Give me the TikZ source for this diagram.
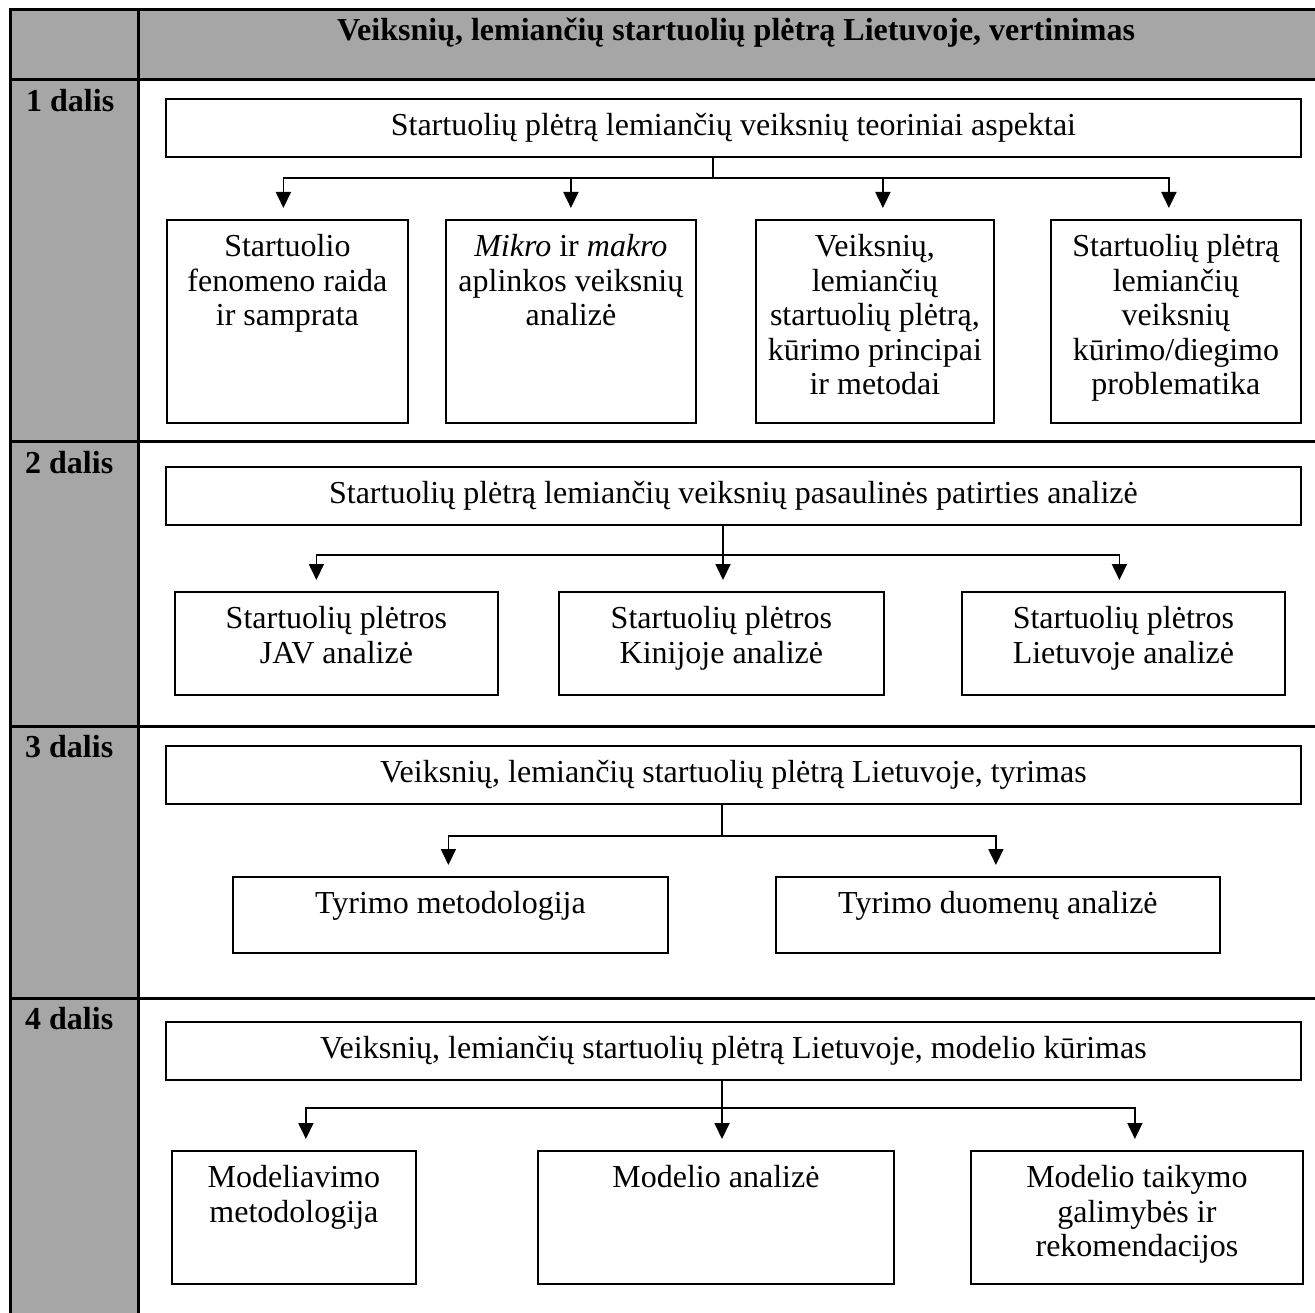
\documentclass[tikz,border=0pt]{standalone}
\usepackage{fontspec}
\setmainfont{Liberation Serif}
\usetikzlibrary{arrows.meta}
\definecolor{cellgray}{HTML}{A6A6A6}
\newcommand\bodyfont{\fontsize{32}{34.5}\selectfont}
% top-aligned, centred text block of a given width and height
\newcommand\boxtext[3]{\parbox[t][#2][t]{#1}{\centering\rule{0pt}{37pt}#3}}
\tikzset{
  tbl/.style={line width=3pt, line cap=rect},
  bx/.style={draw, line width=1.8pt, inner sep=0pt, anchor=north west, font=\bodyfont},
  topbx/.style={bx, minimum width=1135pt, minimum height=58pt},
  lbl/.style={font=\bodyfont\bfseries, anchor=base west, inner sep=0pt},
  ln/.style={line width=1.8pt},
  arr/.style={line width=1.8pt, -{Triangle[width=15pt,length=16pt]}, shorten >=11pt},
}
\begin{document}
\begin{tikzpicture}[x=1pt, y=-1pt]
\useasboundingbox (0,0) rectangle (1315,1313);
\clip (0,0) rectangle (1315,1313);

% table background and rules
\fill[cellgray] (10,10) rectangle (1340,80);
\fill[cellgray] (10,80) rectangle (138,1340);
\draw[tbl] (10,1340) -- (10,10) -- (1340,10);
\draw[tbl] (138,10) -- (138,1340);
\foreach \y in {80,442,726,998} \draw[tbl] (10,\y) -- (1340,\y);

% header and part labels
\node[font=\bodyfont\bfseries, anchor=base] (title) at (736,41)
  {Veiksnių, lemiančių startuolių plėtrą Lietuvoje, vertinimas};
\node[lbl] (d1) at (26,112) {1 dalis};
\node[lbl] (d2) at (25,473) {2 dalis};
\node[lbl] (d3) at (25,757) {3 dalis};
\node[lbl] (d4) at (25,1029) {4 dalis};

% part 1
\node[topbx] (t1) at (165,98) {Startuolių plėtrą lemiančių veiksnių teoriniai aspektai};
\node[bx] (b11) at (166,219) {\boxtext{241pt}{203pt}{Startuolio\\fenomeno raida\\ir samprata}};
\node[bx] (b12) at (445,219) {\boxtext{250pt}{203pt}{\textit{Mikro} ir \textit{makro}\\aplinkos veiksnių\\analizė}};
\node[bx] (b13) at (755,219) {\boxtext{238pt}{203pt}{Veiksnių,\\lemiančių\\startuolių plėtrą,\\kūrimo principai\\ir metodai}};
\node[bx] (b14) at (1050,219) {\boxtext{250pt}{203pt}{Startuolių plėtrą\\lemiančių\\veiksnių\\kūrimo/diegimo\\problematika}};
\coordinate (j1) at (713,178);
\draw[ln] (t1.south -| j1) -- (j1);
\draw[arr] (j1) -| ([xshift=-4pt]b11.north);
\draw[arr] (j1) -| (b12.north);
\draw[arr] (j1) -| ([xshift=8pt]b13.north);
\draw[arr] (j1) -| ([xshift=-7pt]b14.north);

% part 2
\node[topbx] (t2) at (165,466) {Startuolių plėtrą lemiančių veiksnių pasaulinės patirties analizė};
\node[bx] (b21) at (174,591) {\boxtext{323pt}{103pt}{Startuolių plėtros\\JAV analizė}};
\node[bx] (b22) at (558,591) {\boxtext{325pt}{103pt}{Startuolių plėtros\\Kinijoje analizė}};
\node[bx] (b23) at (961,591) {\boxtext{323pt}{103pt}{Startuolių plėtros\\Lietuvoje analizė}};
\coordinate (j2) at (723,555);
\draw[ln] (t2.south -| j2) -- (j2);
\draw[arr] (j2) -| ([xshift=-20pt]b21.north);
\draw[arr] (j2) -- (b22.north -| j2);
\draw[arr] (j2) -| ([xshift=-4pt]b23.north);

% part 3
\node[topbx] (t3) at (165,745) {Veiksnių, lemiančių startuolių plėtrą Lietuvoje, tyrimas};
\node[bx] (b31) at (232,876) {\boxtext{435pt}{76pt}{Tyrimo metodologija}};
\node[bx] (b32) at (775,876) {\boxtext{444pt}{76pt}{Tyrimo duomenų analizė}};
\coordinate (j3) at (722,836);
\draw[ln] (t3.south -| j3) -- (j3);
\draw[arr] (j3) -| ([xshift=-2pt]b31.north);
\draw[arr] (j3) -| ([xshift=-2pt]b32.north);

% part 4
\node[topbx] (t4) at (165,1021) {Veiksnių, lemiančių startuolių plėtrą Lietuvoje, modelio kūrimas};
\node[bx] (b41) at (171,1150) {\boxtext{244pt}{133pt}{Modeliavimo\\metodologija}};
\node[bx] (b42) at (537,1150) {\boxtext{356pt}{133pt}{Modelio analizė}};
\node[bx] (b43) at (970,1150) {\boxtext{332pt}{133pt}{Modelio taikymo\\galimybės ir\\rekomendacijos}};
\coordinate (j4) at (722,1108);
\draw[ln] (t4.south -| j4) -- (j4);
\draw[arr] (j4) -| ([xshift=12pt]b41.north);
\draw[arr] (j4) -- (b42.north -| j4);
\draw[arr] (j4) -| ([xshift=-2pt]b43.north);
\end{tikzpicture}
\end{document}
